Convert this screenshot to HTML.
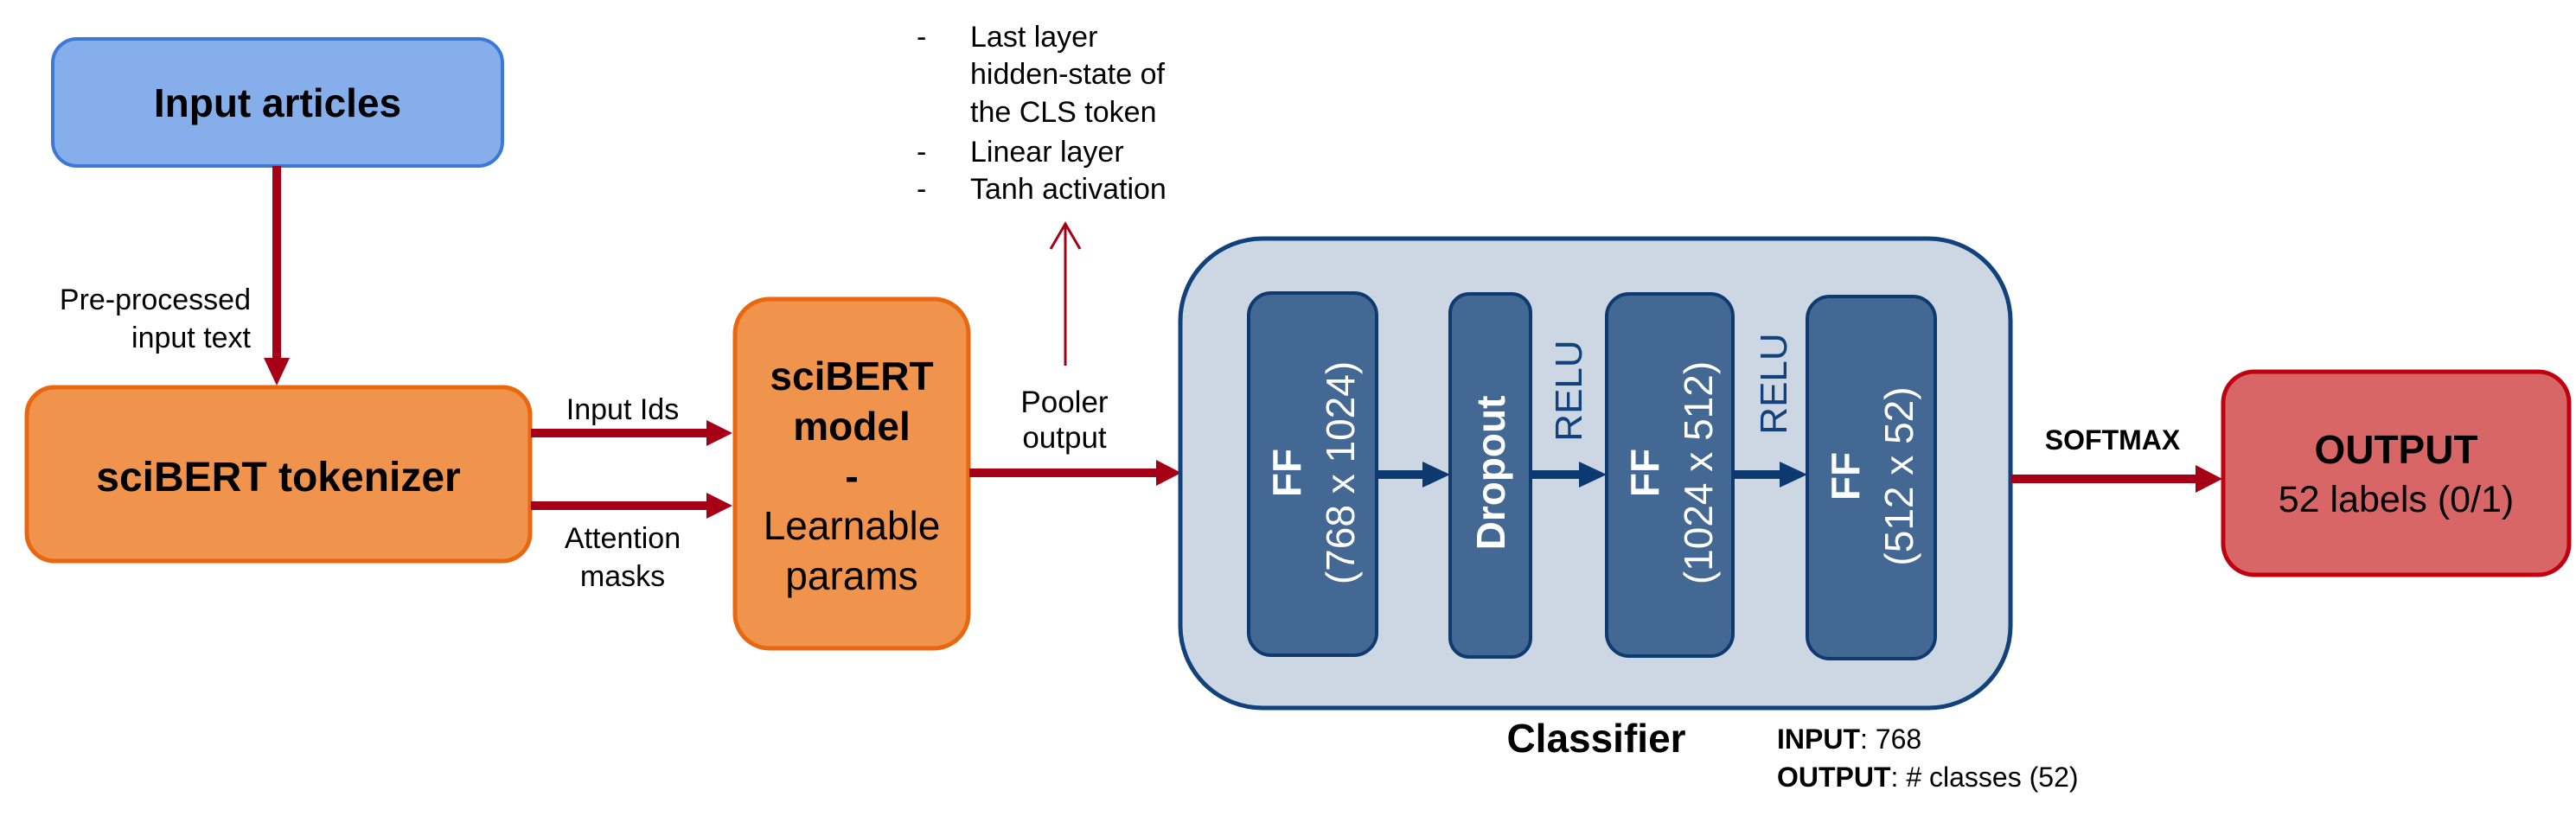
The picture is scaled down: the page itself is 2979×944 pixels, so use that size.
<!DOCTYPE html>
<html><head><meta charset="utf-8"><style>
html,body{margin:0;padding:0;background:#fff;}
svg{display:block;}
text{font-family:"Liberation Sans",Arial,sans-serif;}
</style></head><body>
<svg width="2979" height="944" viewBox="0 0 2979 944" xmlns="http://www.w3.org/2000/svg">
<defs>
<marker id="rh" markerWidth="10" markerHeight="10" refX="0" refY="0" orient="auto" markerUnits="userSpaceOnUse"></marker>
</defs>
<!-- Input articles -->
<rect x="61" y="45" width="520" height="147" rx="28" fill="#86aeea" stroke="#3b78d8" stroke-width="4"/>
<text x="321" y="135" font-size="46" font-weight="bold" text-anchor="middle">Input articles</text>
<!-- vertical arrow -->
<rect x="315" y="192" width="10" height="224" fill="#a50016"/>
<polygon points="305,414 335,414 320,446" fill="#a50016"/>
<text x="290" y="358" font-size="34" text-anchor="end">Pre-processed</text>
<text x="290" y="402" font-size="34" text-anchor="end">input text</text>
<!-- tokenizer -->
<rect x="31" y="448" width="582" height="201" rx="32" fill="#f0934c" stroke="#e8670f" stroke-width="5"/>
<text x="322" y="568" font-size="48" font-weight="bold" text-anchor="middle">sciBERT tokenizer</text>
<!-- arrows to model -->
<rect x="614" y="496" width="205" height="10" fill="#a50016"/>
<polygon points="817,486 847,501 817,516" fill="#a50016"/>
<rect x="614" y="580" width="205" height="10" fill="#a50016"/>
<polygon points="817,570 847,585 817,600" fill="#a50016"/>
<text x="720" y="485" font-size="34" text-anchor="middle">Input Ids</text>
<text x="720" y="634" font-size="34" text-anchor="middle">Attention</text>
<text x="720" y="678" font-size="34" text-anchor="middle">masks</text>
<!-- model -->
<rect x="850" y="346" width="270" height="404" rx="40" fill="#f0934c" stroke="#e8670f" stroke-width="5"/>
<text x="985" y="451" font-size="46" font-weight="bold" text-anchor="middle">sciBERT</text>
<text x="985" y="509" font-size="46" font-weight="bold" text-anchor="middle">model</text>
<text x="985" y="567" font-size="46" font-weight="bold" text-anchor="middle">-</text>
<text x="985" y="624" font-size="46" text-anchor="middle">Learnable</text>
<text x="985" y="682" font-size="46" text-anchor="middle">params</text>
<!-- pooler arrow -->
<rect x="1121" y="542" width="218" height="10" fill="#a50016"/>
<polygon points="1337,532 1366,547 1337,562" fill="#a50016"/>
<text x="1231" y="477" font-size="35" text-anchor="middle">Pooler</text>
<text x="1231" y="518" font-size="35" text-anchor="middle">output</text>
<!-- thin up arrow -->
<line x1="1232" y1="423" x2="1232" y2="259" stroke="#a50016" stroke-width="3"/>
<polyline points="1215,288 1232,259 1249,288" fill="none" stroke="#a50016" stroke-width="3"/>
<!-- bullets -->
<g font-size="34">
<text x="1060" y="54">-</text><text x="1122" y="54">Last layer</text>
<text x="1122" y="97">hidden-state of</text>
<text x="1122" y="141">the CLS token</text>
<text x="1060" y="187">-</text><text x="1122" y="187">Linear layer</text>
<text x="1060" y="230">-</text><text x="1122" y="230">Tanh activation</text>
</g>
<!-- classifier -->
<rect x="1365" y="276" width="960" height="543" rx="95" fill="#cdd7e4" stroke="#12427c" stroke-width="5"/>
<g fill="#436893" stroke="#0f3a70" stroke-width="4">
<rect x="1444" y="339" width="148" height="419" rx="26"/>
<rect x="1677" y="340" width="93" height="420" rx="22"/>
<rect x="1858" y="340" width="146" height="419" rx="26"/>
<rect x="2090" y="343" width="148" height="419" rx="26"/>
</g>
<g fill="#0c3a70">
<rect x="1592" y="544" width="56" height="10"/><polygon points="1645,534 1677,549 1645,564"/>
<rect x="1770" y="544" width="58" height="10"/><polygon points="1826,534 1858,549 1826,564"/>
<rect x="2004" y="544" width="56" height="10"/><polygon points="2058,534 2090,549 2058,564"/>
</g>
<g fill="#fff" font-size="46">
<text transform="translate(1504,547) rotate(-90)" text-anchor="middle" font-weight="bold">FF</text>
<text transform="translate(1566,547) rotate(-90)" text-anchor="middle">(768 x 1024)</text>
<text transform="translate(1740,547) rotate(-90)" text-anchor="middle" font-weight="bold">Dropout</text>
<text transform="translate(1918,547) rotate(-90)" text-anchor="middle" font-weight="bold">FF</text>
<text transform="translate(1980,547) rotate(-90)" text-anchor="middle">(1024 x 512)</text>
<text transform="translate(2150,551) rotate(-90)" text-anchor="middle" font-weight="bold">FF</text>
<text transform="translate(2212,551) rotate(-90)" text-anchor="middle">(512 x 52)</text>
</g>
<g fill="#12427c" font-size="44">
<text transform="translate(1829,452) rotate(-90)" text-anchor="middle">RELU</text>
<text transform="translate(2066,444) rotate(-90)" text-anchor="middle">RELU</text>
</g>
<text x="1846" y="870" font-size="46" font-weight="bold" text-anchor="middle">Classifier</text>
<text x="2055" y="866" font-size="32"><tspan font-weight="bold">INPUT</tspan>: 768</text>
<text x="2055" y="910" font-size="32"><tspan font-weight="bold">OUTPUT</tspan>: # classes (52)</text>
<!-- softmax arrow -->
<rect x="2326" y="549" width="215" height="10" fill="#a50016"/>
<polygon points="2539,538 2570,554 2539,570" fill="#a50016"/>
<text x="2443" y="520" font-size="32" font-weight="bold" text-anchor="middle">SOFTMAX</text>
<!-- output -->
<rect x="2571" y="430" width="400" height="235" rx="36" fill="#d96666" stroke="#c00010" stroke-width="5"/>
<text x="2771" y="536" font-size="46" font-weight="bold" text-anchor="middle">OUTPUT</text>
<text x="2771" y="592" font-size="43" text-anchor="middle">52 labels (0/1)</text>
</svg>
</body></html>
